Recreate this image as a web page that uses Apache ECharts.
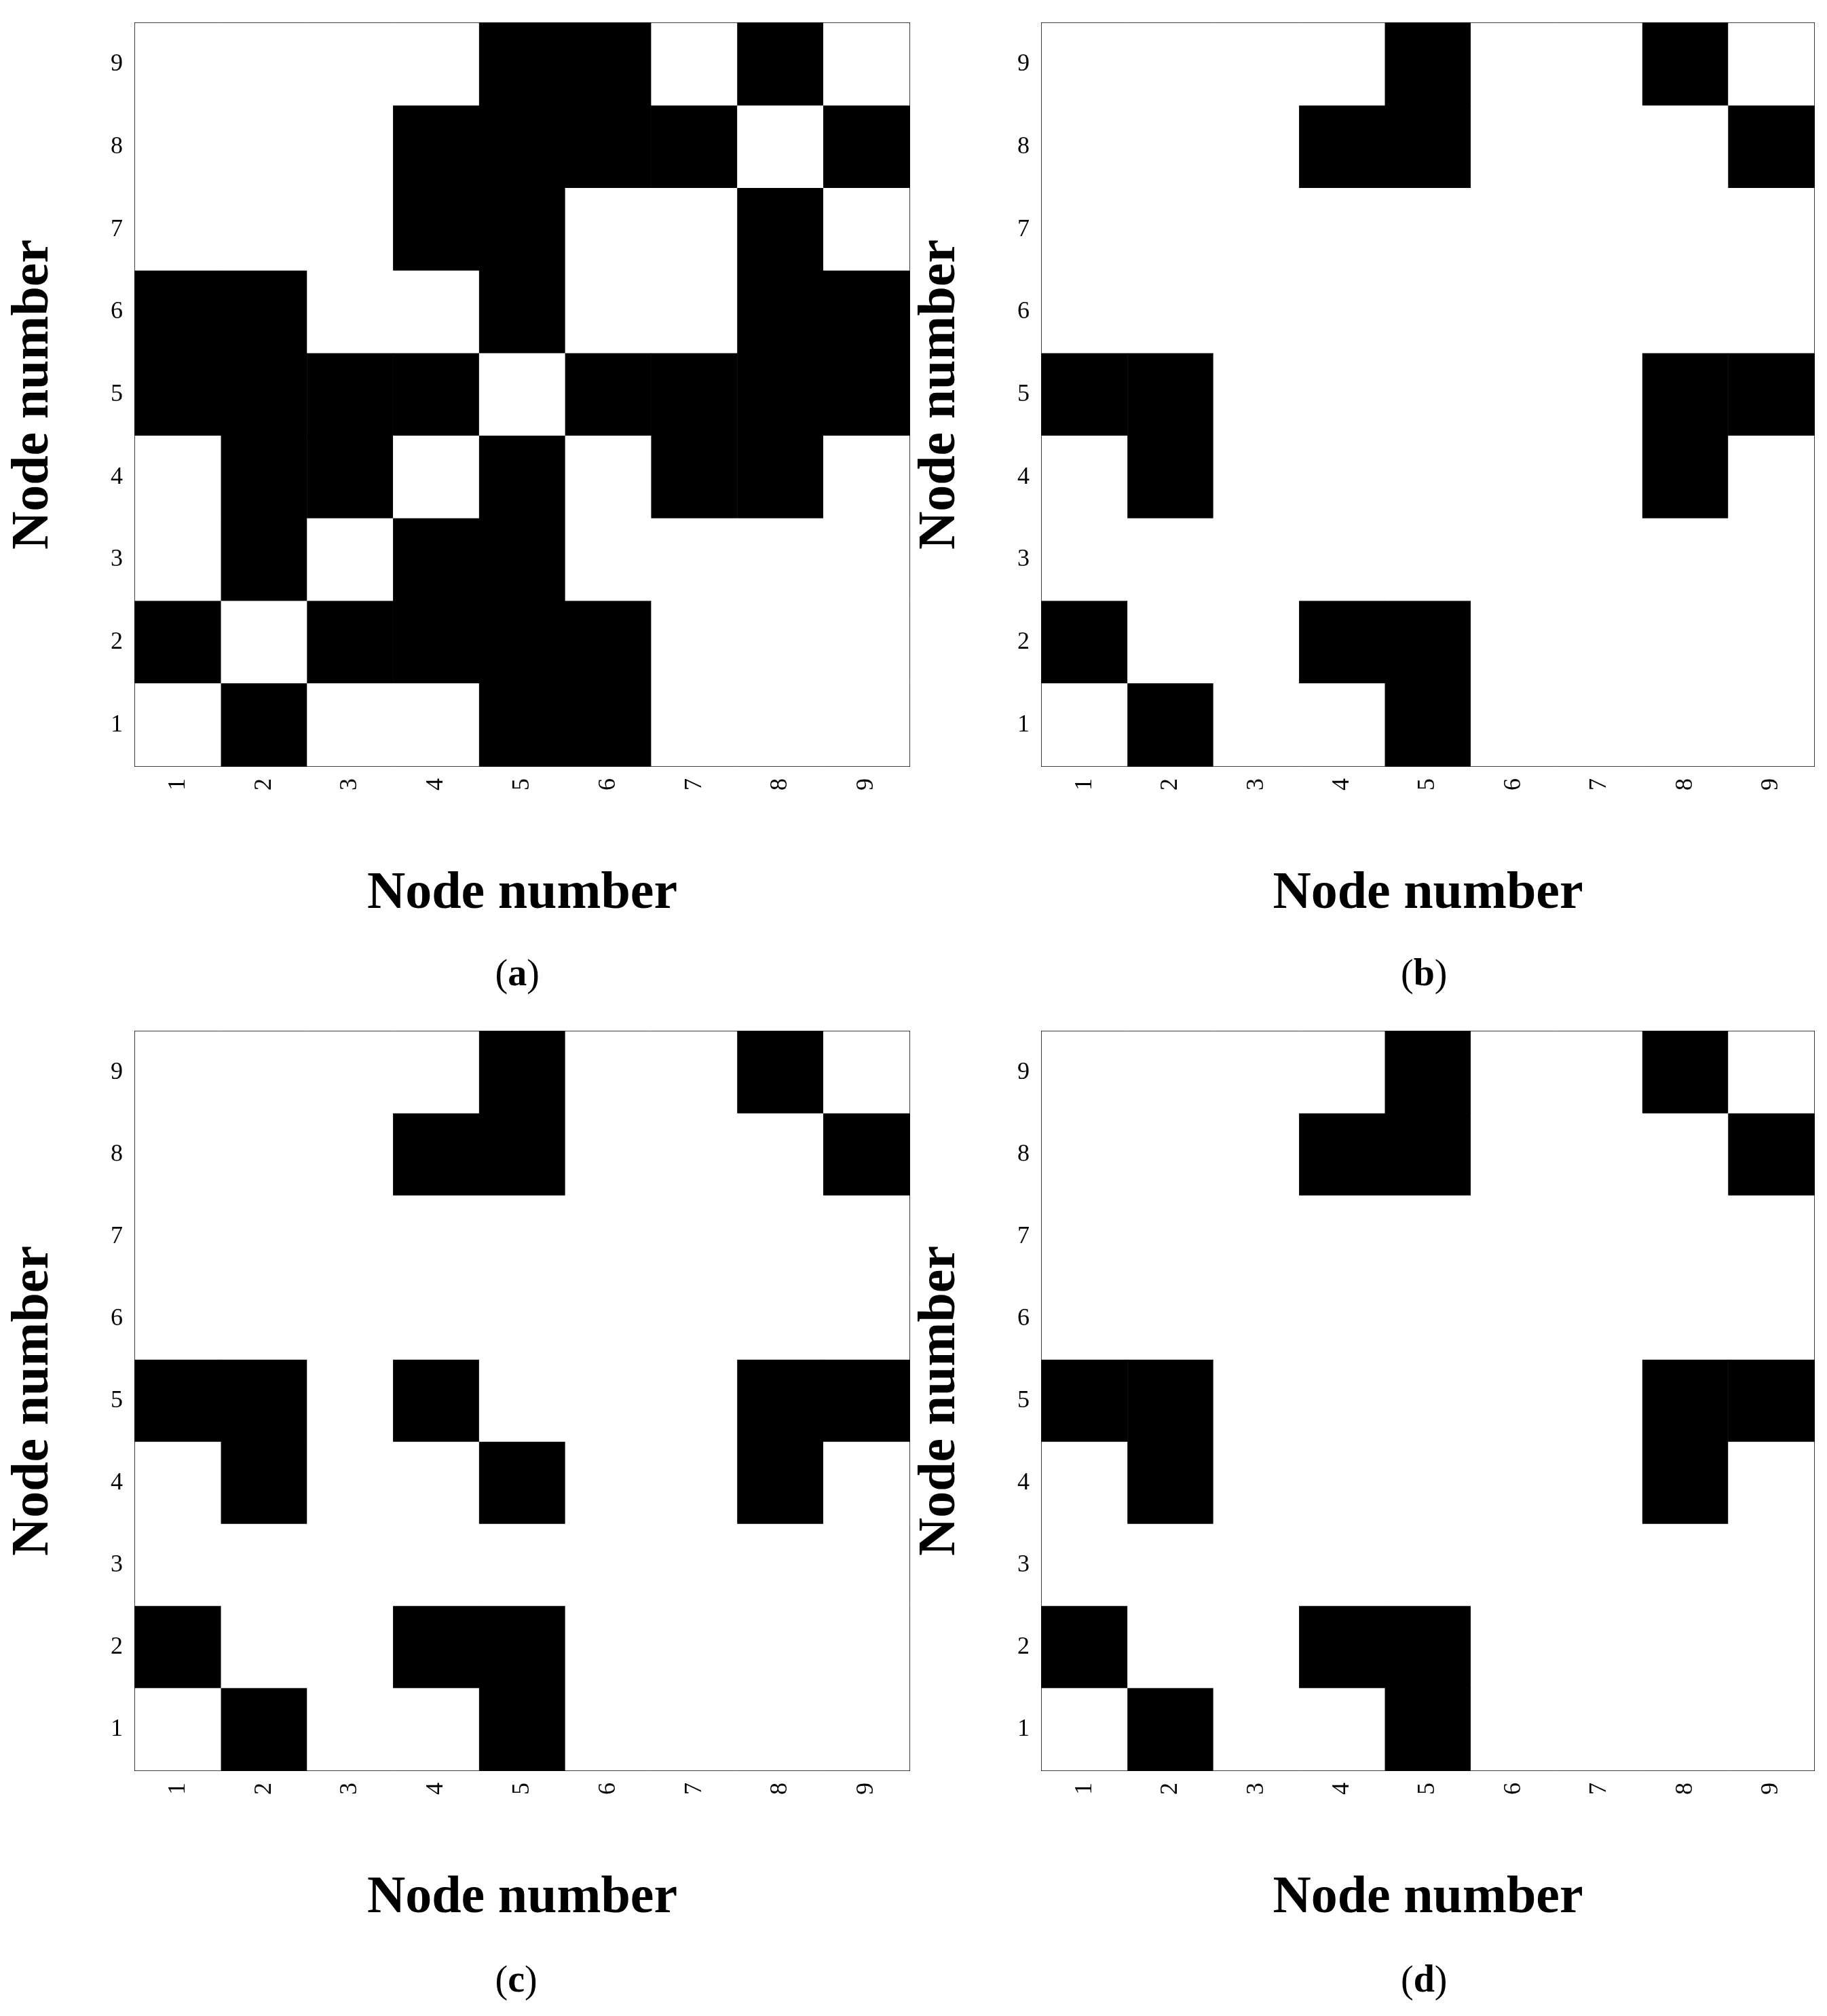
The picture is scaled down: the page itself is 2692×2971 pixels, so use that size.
<!DOCTYPE html>
<html>
<head>
<meta charset="utf-8">
<script src="https://cdn.jsdelivr.net/npm/echarts@6/dist/echarts.min.js"></script>
<style>html,body{margin:0;background:#fff}#c{width:2692px;height:2971px}</style>
</head>
<body>
<div id="c"></div>
<script>
// node labels
const nodes = ['1', '2', '3', '4', '5', '6', '7', '8', '9'];

// adjacency matrices, rows listed from node 9 (top) down to node 1
const matA = [
  [0,0,0,0,1,1,0,1,0],
  [0,0,0,1,1,1,1,0,1],
  [0,0,0,1,1,0,0,1,0],
  [1,1,0,0,1,0,0,1,1],
  [1,1,1,1,0,1,1,1,1],
  [0,1,1,0,1,0,1,1,0],
  [0,1,0,1,1,0,0,0,0],
  [1,0,1,1,1,1,0,0,0],
  [0,1,0,0,1,1,0,0,0]
];
const matB = [
  [0,0,0,0,1,0,0,1,0],
  [0,0,0,1,1,0,0,0,1],
  [0,0,0,0,0,0,0,0,0],
  [0,0,0,0,0,0,0,0,0],
  [1,1,0,0,0,0,0,1,1],
  [0,1,0,0,0,0,0,1,0],
  [0,0,0,0,0,0,0,0,0],
  [1,0,0,1,1,0,0,0,0],
  [0,1,0,0,1,0,0,0,0]
];
const matC = [
  [0,0,0,0,1,0,0,1,0],
  [0,0,0,1,1,0,0,0,1],
  [0,0,0,0,0,0,0,0,0],
  [0,0,0,0,0,0,0,0,0],
  [1,1,0,1,0,0,0,1,1],
  [0,1,0,0,1,0,0,1,0],
  [0,0,0,0,0,0,0,0,0],
  [1,0,0,1,1,0,0,0,0],
  [0,1,0,0,1,0,0,0,0]
];
const matD = matB;
const panelLabels = ['a', 'b', 'c', 'd'];

const mats = [matA, matB, matC, matD];
const grids = [
  {left: 199, top: 34, width: 1141, height: 1095},
  {left: 1535, top: 34, width: 1138, height: 1095},
  {left: 199, top: 1520, width: 1141, height: 1089},
  {left: 1535, top: 1520, width: 1138, height: 1089}
];

function toCells(m) {
  const out = [];
  m.forEach((row, r) => row.forEach((v, c) => out.push([c, 8 - r, v])));
  return out;
}

const font = '"Liberation Serif", "Times New Roman", serif';
const option = {
  animation: false,
  backgroundColor: '#fff',
  grid: grids.map(g => ({...g, show: true, borderColor: '#000', borderWidth: 2, backgroundColor: '#fff', z: 0})),
  xAxis: grids.map((g, i) => ({
    type: 'category', gridIndex: i, data: nodes,
    name: 'Node number', nameLocation: 'middle', nameGap: 150,
    nameTextStyle: {fontFamily: font, fontWeight: 'bold', fontSize: 78, color: '#000'},
    axisLine: {lineStyle: {color: '#000', width: 2}},
    axisTick: {alignWithLabel: true, length: 12, lineStyle: {color: '#000', width: 2}},
    axisLabel: {rotate: 90, fontFamily: font, fontSize: 36, color: '#000', margin: 18},
    splitLine: {show: false}
  })),
  yAxis: grids.map((g, i) => ({
    type: 'category', gridIndex: i, data: nodes,
    name: 'Node number', nameLocation: 'middle', nameGap: 110,
    nameTextStyle: {fontFamily: font, fontWeight: 'bold', fontSize: 78, color: '#000'},
    axisLine: {lineStyle: {color: '#000', width: 2}},
    axisTick: {alignWithLabel: true, length: 12, lineStyle: {color: '#000', width: 2}},
    axisLabel: {fontFamily: font, fontSize: 36, color: '#000', margin: 18},
    splitLine: {show: false}
  })),
  visualMap: {
    type: 'piecewise', show: false, seriesIndex: [0, 1, 2, 3],
    pieces: [{value: 0, color: '#fff'}, {value: 1, color: '#000'}]
  },
  series: mats.map((m, i) => ({
    type: 'heatmap', xAxisIndex: i, yAxisIndex: i, data: toCells(m),
    itemStyle: {borderWidth: 0}
  })),
  graphic: grids.map((g, i) => ({
    type: 'text', left: g.left + g.width / 2 - 40, top: i < 2 ? 1410 : 2893,
    style: {
      text: '(' + panelLabels[i] + ')', font: '56px ' + font, fill: '#000',
      rich: {}
    }
  }))
};

// make the panel letter bold while keeping brackets regular
option.graphic = grids.map((g, i) => ({
  type: 'text', left: g.left + g.width / 2 - 40, top: i < 2 ? 1410 : 2893,
  style: {
    text: '{n|(}{b|' + panelLabels[i] + '}{n|)}',
    rich: {
      n: {fontFamily: font, fontSize: 56, fill: '#000'},
      b: {fontFamily: font, fontSize: 56, fontWeight: 'bold', fill: '#000'}
    }
  }
}));

echarts.init(document.getElementById('c')).setOption(option);
</script>
</body>
</html>
